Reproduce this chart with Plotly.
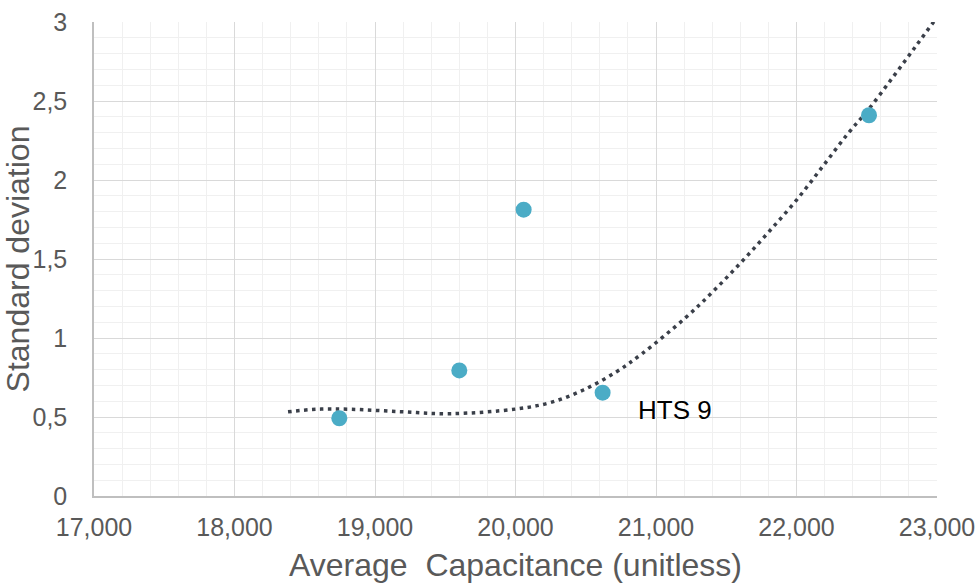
import plotly.graph_objects as go

# Measured samples
avg_capacitance = [18746, 19600, 20058, 20620, 22516]
std_deviation = [0.492, 0.795, 1.812, 0.654, 2.410]

# Dotted trend curve, sampled along its path
trend_x = [18381, 18585, 18822, 19178, 19534, 20009, 20246, 20483, 20720, 20898,
           21206, 21409, 21610, 21800, 22000, 22190, 22368, 22511, 22689, 22855, 23000]
trend_y = [0.533, 0.549, 0.549, 0.534, 0.521, 0.551, 0.591, 0.671, 0.787, 0.899,
           1.125, 1.297, 1.483, 1.669, 1.873, 2.090, 2.296, 2.445, 2.654, 2.854, 3.030]

x_ticks = [17000, 18000, 19000, 20000, 21000, 22000, 23000]
x_tick_text = ["17,000", "18,000", "19,000", "20,000", "21,000", "22,000", "23,000"]
y_ticks = [0, 0.5, 1, 1.5, 2, 2.5, 3]
y_tick_text = ["0", "0,5", "1", "1,5", "2", "2,5", "3"]

label_text = "HTS 9"
label_x = 20858
label_y = 0.545

FONT = "Liberation Sans, Arial, sans-serif"
TEXT_GREY = "#595959"

fig = go.Figure()

fig.add_trace(go.Scatter(
    x=trend_x, y=trend_y, mode="lines",
    line=dict(color="#3A3F49", width=3.5, dash="3.5px,4.5px", shape="spline", smoothing=1.0),
    hoverinfo="skip", showlegend=False, cliponaxis=False,
))

fig.add_trace(go.Scatter(
    x=avg_capacitance, y=std_deviation, mode="markers",
    marker=dict(color="#4BACC6", size=16, line=dict(width=0)),
    showlegend=False,
))

fig.add_annotation(
    x=label_x, y=label_y, text=label_text, showarrow=False,
    xanchor="left", yanchor="middle",
    font=dict(family=FONT, size=26, color="#000000"),
)

fig.update_layout(
    width=978, height=586,
    margin=dict(l=94, r=41, t=22, b=90),
    paper_bgcolor="white", plot_bgcolor="white",
    font=dict(family=FONT, color=TEXT_GREY),
)

fig.update_xaxes(
    range=[17000, 23000], automargin=False,
    tickmode="array", tickvals=x_ticks, ticktext=x_tick_text,
    tickfont=dict(size=25, color=TEXT_GREY),
    showgrid=True, gridcolor="#D9D9D9", gridwidth=1.3,
    minor=dict(tickmode="linear", tick0=17000, dtick=200, showgrid=True,
               gridcolor="#F0F0F0", gridwidth=1.3),
    showline=True, linecolor="#BFBFBF", linewidth=1.5,
    zeroline=False, ticks="", ticklabelstandoff=8,
    title=dict(text="Average  Capacitance (unitless)",
               font=dict(size=32, color=TEXT_GREY), standoff=14),
)

fig.update_yaxes(
    range=[0, 3], automargin=False,
    tickmode="array", tickvals=y_ticks, ticktext=y_tick_text,
    tickfont=dict(size=25, color=TEXT_GREY),
    showgrid=True, gridcolor="#D9D9D9", gridwidth=1.3,
    minor=dict(tickmode="linear", tick0=0, dtick=0.1, showgrid=True,
               gridcolor="#F0F0F0", gridwidth=1.3),
    showline=True, linecolor="#BFBFBF", linewidth=1.5,
    zeroline=False, ticks="", ticklabelstandoff=20,
    title=dict(text="Standard deviation",
               font=dict(size=32, color=TEXT_GREY), standoff=2),
)

fig.write_html("out.html")
